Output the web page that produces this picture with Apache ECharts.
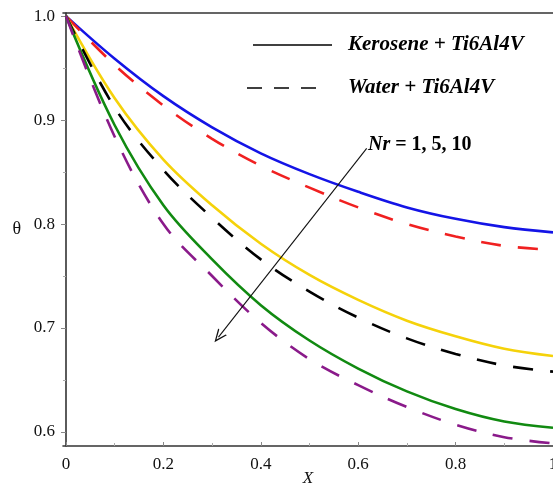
<!DOCTYPE html>
<html><head><meta charset="utf-8">
<script src="https://cdn.jsdelivr.net/npm/echarts@6/dist/echarts.min.js"></script>
<style>html,body{margin:0;padding:0;background:#fff}#c{width:553px;height:486px}</style>
</head><body><div id="c"></div>
<script>
const xValues      = [0, 0.1, 0.2, 0.3, 0.4, 0.5, 0.6, 0.7, 0.8, 0.9, 1.0];
const keroseneNr1  = [1, 0.959, 0.923, 0.893, 0.868, 0.848, 0.831, 0.816, 0.805, 0.797, 0.792];
const waterNr1     = [1, 0.953, 0.914, 0.882, 0.856, 0.835, 0.816, 0.800, 0.788, 0.779, 0.775];
const keroseneNr5  = [1, 0.921, 0.862, 0.818, 0.781, 0.751, 0.727, 0.707, 0.692, 0.680, 0.673];
const waterNr5     = [1, 0.912, 0.852, 0.806, 0.766, 0.735, 0.710, 0.690, 0.675, 0.664, 0.658];
const keroseneNr10 = [1, 0.895, 0.818, 0.766, 0.722, 0.688, 0.661, 0.639, 0.622, 0.610, 0.604];
const waterNr10    = [1, 0.884, 0.800, 0.750, 0.705, 0.670, 0.645, 0.624, 0.607, 0.595, 0.589];
const xTicks      = [0, 0.2, 0.4, 0.6, 0.8, 1];
const xMinorTicks = [0.1, 0.3, 0.5, 0.7, 0.9];
const yTicks      = [0.6, 0.7, 0.8, 0.9, 1.0];
const yMinorTicks = [0.65, 0.75, 0.85, 0.95];
const arrowStart = [0.6174, 0.8728];
const arrowEnd   = [0.3131, 0.6913];

const SERIF = '"Liberation Serif","Times New Roman",serif';
const pts = arr => xValues.map((x, i) => [x, arr[i]]);
const X_MIN = -0.00615, X_MAX = 1, Y_MIN = 0.5865, Y_MAX = 1.003;
const DASH = [20, 17];

function mk(name, arr, color, dashed) {
  return {
    name, type: 'line', data: pts(arr), smooth: 0.35,
    showSymbol: false, symbol: 'none', silent: true, clip: false,
    lineStyle: { color, width: 2.6, type: dashed ? DASH : 'solid' }
  };
}

const series = [
  mk('Kerosene Nr=1', keroseneNr1, '#1414e6', false),
  mk('Water Nr=1', waterNr1, '#f02020', true),
  mk('Kerosene Nr=5', keroseneNr5, '#f5d20a', false),
  mk('Water Nr=5', waterNr5, '#000000', true),
  mk('Kerosene Nr=10', keroseneNr10, '#118a11', false),
  mk('Water Nr=10', waterNr10, '#8a1a8a', true)
];
series[0].markLine = {
  silent: true, animation: false,
  symbol: ['none', 'path://M5,0 L10,12 L8.7,12 L5,3 L1.3,12 L0,12 Z'],
  symbolSize: [11, 13],
  label: { show: false },
  lineStyle: { color: '#111', width: 1.1, type: 'solid' },
  data: [[{ coord: arrowStart }, { coord: arrowEnd }]]
};

const axisLineStyle = { color: '#333', width: 1.6 };
const option = {
  animation: false,
  backgroundColor: '#fff',
  grid: { left: 63, right: 0, top: 13, bottom: 40, containLabel: false, outerBoundsMode: 'none' },
  xAxis: [
    { type: 'value', min: X_MIN, max: X_MAX, position: 'bottom',
      name: 'X', nameLocation: 'middle', nameGap: 24, nameMoveOverlap: false,
      nameTextStyle: { fontFamily: SERIF, fontStyle: 'italic', fontSize: 17, color: '#111' },
      axisLine: { show: true, lineStyle: axisLineStyle },
      axisTick: { show: true, inside: true, length: 4, customValues: xTicks, lineStyle: { color: '#888' } },
      axisLabel: { show: true, customValues: xTicks, margin: 10, fontFamily: SERIF, fontSize: 17, color: '#111',
        hideOverlap: false,
        formatter: v => (Math.abs(v) < 1e-9 ? '0' : (Math.abs(v - 1) < 1e-9 ? '1' : v.toFixed(1))) },
      splitLine: { show: false } },
    { type: 'value', min: X_MIN, max: X_MAX, position: 'bottom',
      axisLine: { show: false },
      axisTick: { show: true, inside: true, length: 3, customValues: xMinorTicks, lineStyle: { color: '#aaa' } },
      axisLabel: { show: false }, splitLine: { show: false } },
    { type: 'value', min: X_MIN, max: X_MAX, position: 'top',
      axisLine: { show: true, lineStyle: axisLineStyle },
      axisTick: { show: false }, axisLabel: { show: false }, splitLine: { show: false } }
  ],
  yAxis: [
    { type: 'value', min: Y_MIN, max: Y_MAX, position: 'left',
      name: 'θ', nameLocation: 'middle', nameGap: 42, nameRotate: 0, nameMoveOverlap: false,
      nameTextStyle: { fontFamily: SERIF, fontSize: 18, color: '#111' },
      axisLine: { show: true, lineStyle: axisLineStyle },
      axisTick: { show: true, inside: false, length: 5, customValues: yTicks, lineStyle: { color: '#888' } },
      axisLabel: { show: true, customValues: yTicks, margin: 8, fontFamily: SERIF, fontSize: 17, color: '#111',
        formatter: v => v.toFixed(1) },
      splitLine: { show: false } },
    { type: 'value', min: Y_MIN, max: Y_MAX, position: 'left',
      axisLine: { show: false },
      axisTick: { show: true, inside: false, length: 3, customValues: yMinorTicks, lineStyle: { color: '#aaa' } },
      axisLabel: { show: false }, splitLine: { show: false } }
  ],
  graphic: [
    { type: 'line', silent: true, shape: { x1: 253, y1: 45, x2: 332, y2: 45 }, style: { stroke: '#000', lineWidth: 1.3 } },
    { type: 'text', silent: true, x: 348, y: 45, style: { text: 'Kerosene + Ti6Al4V', font: 'italic bold 21px ' + SERIF, fill: '#000', verticalAlign: 'middle', align: 'left' } },
    { type: 'line', silent: true, shape: { x1: 247, y1: 88, x2: 322, y2: 88 }, style: { stroke: '#000', lineWidth: 1.3, lineDash: [15, 12] } },
    { type: 'text', silent: true, x: 348, y: 88, style: { text: 'Water + Ti6Al4V', font: 'italic bold 21px ' + SERIF, fill: '#000', verticalAlign: 'middle', align: 'left' } },
    { type: 'text', silent: true, x: 368, y: 145, style: {
        text: '{a|Nr}{b| = 1, 5, 10}', verticalAlign: 'middle', align: 'left', fill: '#000',
        rich: { a: { font: 'italic bold 20px ' + SERIF, fill: '#000' }, b: { font: 'bold 20px ' + SERIF, fill: '#000' } } } }
  ],
  series
};
const chart = echarts.init(document.getElementById('c'), null, { renderer: 'canvas' });
chart.setOption(option);
</script></body></html>
